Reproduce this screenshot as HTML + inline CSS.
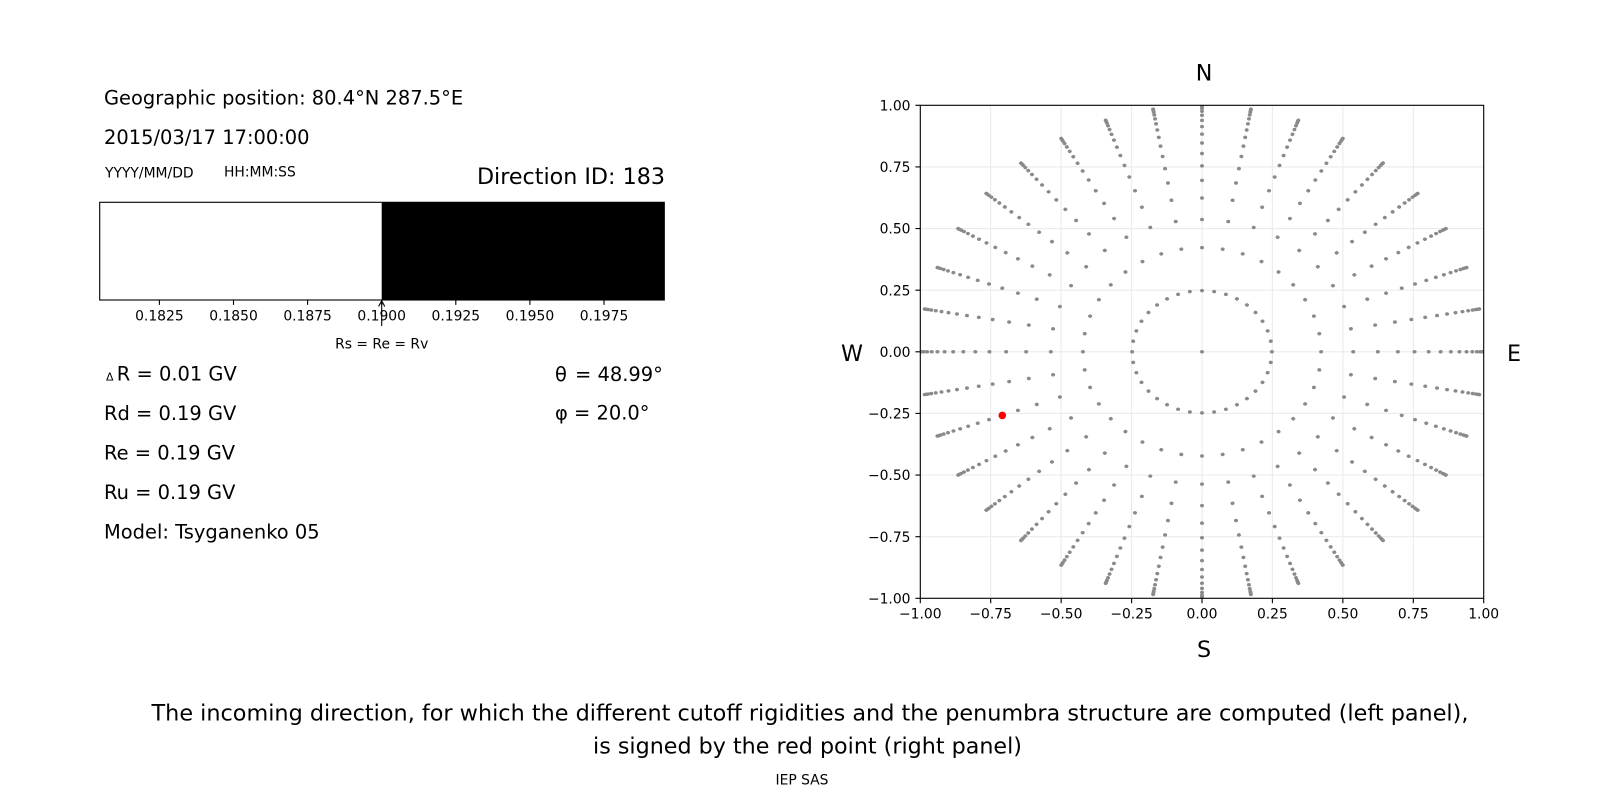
<!DOCTYPE html>
<html>
<head>
<meta charset="utf-8">
<style>
  html, body { margin: 0; padding: 0; background: #ffffff; }
  svg { display: block; }
  text { font-family: "DejaVu Sans", "Liberation Sans", sans-serif; fill: #000; }
</style>
</head>
<body>
<svg width="1600" height="800" viewBox="0 0 1600 800" xmlns="http://www.w3.org/2000/svg">
  <rect x="0" y="0" width="1600" height="800" fill="#ffffff"/>

  <!-- ===== LEFT PANEL ===== -->
  <text x="104" y="104.3" font-size="19.44">Geographic position: 80.4°N 287.5°E</text>
  <text x="104" y="144" font-size="19.44">2015/03/17 17:00:00</text>
  <text x="105" y="177.3" font-size="13.89">YYYY/MM/DD</text>
  <text x="224" y="176.6" font-size="13.89">HH:MM:SS</text>
  <text x="665" y="184" font-size="22.22" text-anchor="end">Direction ID: 183</text>

  <!-- bar -->
  <rect x="99.7" y="202.3" width="282" height="97.7" fill="#ffffff"/>
  <rect x="381.7" y="202.3" width="282.6" height="97.7" fill="#000000"/>
  <rect x="99.7" y="202.3" width="564.6" height="97.7" fill="none" stroke="#000" stroke-width="1.11"/>
  <g stroke="#000" stroke-width="1.11">
    <line x1="159.4" y1="300" x2="159.4" y2="304.9"/>
    <line x1="233.5" y1="300" x2="233.5" y2="304.9"/>
    <line x1="307.6" y1="300" x2="307.6" y2="304.9"/>
    <line x1="381.7" y1="300" x2="381.7" y2="304.9"/>
    <line x1="455.8" y1="300" x2="455.8" y2="304.9"/>
    <line x1="529.9" y1="300" x2="529.9" y2="304.9"/>
    <line x1="604.0" y1="300" x2="604.0" y2="304.9"/>
  </g>
  <g font-size="13.89" text-anchor="middle">
    <text x="159.4" y="320.7">0.1825</text>
    <text x="233.5" y="320.7">0.1850</text>
    <text x="307.6" y="320.7">0.1875</text>
    <text x="381.7" y="320.7">0.1900</text>
    <text x="455.8" y="320.7">0.1925</text>
    <text x="529.9" y="320.7">0.1950</text>
    <text x="604.0" y="320.7">0.1975</text>
  </g>
  <!-- arrow -->
  <g stroke="#000" stroke-width="1.1" fill="none">
    <line x1="381.7" y1="326" x2="381.7" y2="300.8"/>
    <polyline points="378.6,306.5 381.7,300.8 384.8,306.5"/>
  </g>
  <text x="381.7" y="348.3" font-size="13.89" text-anchor="middle">Rs = Re = Rv</text>

  <!-- values -->
  <text x="106" y="380.7" font-size="11">Δ</text>
  <text x="116.8" y="380.7" font-size="19.44">R = 0.01 GV</text>
  <text x="104" y="420.2" font-size="19.44">Rd = 0.19 GV</text>
  <text x="104" y="459.7" font-size="19.44">Re = 0.19 GV</text>
  <text x="104" y="499.2" font-size="19.44">Ru = 0.19 GV</text>
  <text x="104" y="538.7" font-size="19.44">Model: Tsyganenko 05</text>

  <text x="555" y="381" font-size="19.44" font-family="DejaVu Serif, serif">θ</text>
  <text x="575" y="381" font-size="19.44">= 48.99°</text>
  <text x="555" y="419.5" font-size="19.44" font-family="DejaVu Serif, serif">φ</text>
  <text x="574" y="419.5" font-size="19.44">= 20.0°</text>

  <!-- ===== RIGHT PANEL ===== -->
  <defs>
    <clipPath id="axclip">
      <rect x="920.3" y="105.3" width="563.4" height="493"/>
    </clipPath>
    <g id="sp">
      <circle cx="69.87" cy="0" r="2"/>
      <circle cx="119.09" cy="0" r="2"/>
      <circle cx="151.20" cy="0" r="2"/>
      <circle cx="175.84" cy="0" r="2"/>
      <circle cx="195.86" cy="0" r="2"/>
      <circle cx="212.55" cy="0" r="2"/>
      <circle cx="226.67" cy="0" r="2"/>
      <circle cx="238.66" cy="0" r="2"/>
      <circle cx="248.83" cy="0" r="2"/>
      <circle cx="257.41" cy="0" r="2"/>
      <circle cx="264.53" cy="0" r="2"/>
      <circle cx="270.33" cy="0" r="2"/>
      <circle cx="274.88" cy="0" r="2"/>
      <circle cx="278.24" cy="0" r="2"/>
      <circle cx="280.46" cy="0" r="2"/>
      <circle cx="281.56" cy="0" r="2"/>
    </g>
  </defs>

  <!-- grid -->
  <g stroke="#ebebeb" stroke-width="1.1">
    <line x1="990.7" y1="105.3" x2="990.7" y2="598.3"/>
    <line x1="1061.15" y1="105.3" x2="1061.15" y2="598.3"/>
    <line x1="1131.6" y1="105.3" x2="1131.6" y2="598.3"/>
    <line x1="1202" y1="105.3" x2="1202" y2="598.3"/>
    <line x1="1272.4" y1="105.3" x2="1272.4" y2="598.3"/>
    <line x1="1342.85" y1="105.3" x2="1342.85" y2="598.3"/>
    <line x1="1413.3" y1="105.3" x2="1413.3" y2="598.3"/>
    <line x1="920.3" y1="166.9" x2="1483.7" y2="166.9"/>
    <line x1="920.3" y1="228.55" x2="1483.7" y2="228.55"/>
    <line x1="920.3" y1="290.2" x2="1483.7" y2="290.2"/>
    <line x1="920.3" y1="351.8" x2="1483.7" y2="351.8"/>
    <line x1="920.3" y1="413.4" x2="1483.7" y2="413.4"/>
    <line x1="920.3" y1="475.05" x2="1483.7" y2="475.05"/>
    <line x1="920.3" y1="536.7" x2="1483.7" y2="536.7"/>
  </g>

  <!-- scatter points -->
  <g clip-path="url(#axclip)">
    <g transform="translate(1202,351.8) scale(1,0.875)" fill="#8a8a8a">
      <circle cx="0" cy="0" r="2"/>
      <use href="#sp"/>
      <use href="#sp" transform="rotate(10)"/>
      <use href="#sp" transform="rotate(20)"/>
      <use href="#sp" transform="rotate(30)"/>
      <use href="#sp" transform="rotate(40)"/>
      <use href="#sp" transform="rotate(50)"/>
      <use href="#sp" transform="rotate(60)"/>
      <use href="#sp" transform="rotate(70)"/>
      <use href="#sp" transform="rotate(80)"/>
      <use href="#sp" transform="rotate(90)"/>
      <use href="#sp" transform="rotate(100)"/>
      <use href="#sp" transform="rotate(110)"/>
      <use href="#sp" transform="rotate(120)"/>
      <use href="#sp" transform="rotate(130)"/>
      <use href="#sp" transform="rotate(140)"/>
      <use href="#sp" transform="rotate(150)"/>
      <use href="#sp" transform="rotate(160)"/>
      <use href="#sp" transform="rotate(170)"/>
      <use href="#sp" transform="rotate(180)"/>
      <use href="#sp" transform="rotate(190)"/>
      <use href="#sp" transform="rotate(200)"/>
      <use href="#sp" transform="rotate(210)"/>
      <use href="#sp" transform="rotate(220)"/>
      <use href="#sp" transform="rotate(230)"/>
      <use href="#sp" transform="rotate(240)"/>
      <use href="#sp" transform="rotate(250)"/>
      <use href="#sp" transform="rotate(260)"/>
      <use href="#sp" transform="rotate(270)"/>
      <use href="#sp" transform="rotate(280)"/>
      <use href="#sp" transform="rotate(290)"/>
      <use href="#sp" transform="rotate(300)"/>
      <use href="#sp" transform="rotate(310)"/>
      <use href="#sp" transform="rotate(320)"/>
      <use href="#sp" transform="rotate(330)"/>
      <use href="#sp" transform="rotate(340)"/>
      <use href="#sp" transform="rotate(350)"/>
    </g>
    <circle cx="1002.3" cy="415.4" r="3.8" fill="#ff0000"/>
  </g>

  <!-- spines -->
  <rect x="920.3" y="105.3" width="563.4" height="493" fill="none" stroke="#000" stroke-width="1.11"/>

  <!-- ticks -->
  <g stroke="#000" stroke-width="1.11">
    <line x1="920.3" y1="598.3" x2="920.3" y2="603.2"/>
    <line x1="990.7" y1="598.3" x2="990.7" y2="603.2"/>
    <line x1="1061.15" y1="598.3" x2="1061.15" y2="603.2"/>
    <line x1="1131.6" y1="598.3" x2="1131.6" y2="603.2"/>
    <line x1="1202" y1="598.3" x2="1202" y2="603.2"/>
    <line x1="1272.4" y1="598.3" x2="1272.4" y2="603.2"/>
    <line x1="1342.85" y1="598.3" x2="1342.85" y2="603.2"/>
    <line x1="1413.3" y1="598.3" x2="1413.3" y2="603.2"/>
    <line x1="1483.7" y1="598.3" x2="1483.7" y2="603.2"/>
    <line x1="915.4" y1="105.3" x2="920.3" y2="105.3"/>
    <line x1="915.4" y1="166.9" x2="920.3" y2="166.9"/>
    <line x1="915.4" y1="228.55" x2="920.3" y2="228.55"/>
    <line x1="915.4" y1="290.2" x2="920.3" y2="290.2"/>
    <line x1="915.4" y1="351.8" x2="920.3" y2="351.8"/>
    <line x1="915.4" y1="413.4" x2="920.3" y2="413.4"/>
    <line x1="915.4" y1="475.05" x2="920.3" y2="475.05"/>
    <line x1="915.4" y1="536.7" x2="920.3" y2="536.7"/>
    <line x1="915.4" y1="598.3" x2="920.3" y2="598.3"/>
  </g>
  <g font-size="13.89" text-anchor="middle">
    <text x="920.3" y="618.3">−1.00</text>
    <text x="990.7" y="618.3">−0.75</text>
    <text x="1061.15" y="618.3">−0.50</text>
    <text x="1131.6" y="618.3">−0.25</text>
    <text x="1202" y="618.3">0.00</text>
    <text x="1272.4" y="618.3">0.25</text>
    <text x="1342.85" y="618.3">0.50</text>
    <text x="1413.3" y="618.3">0.75</text>
    <text x="1483.7" y="618.3">1.00</text>
  </g>
  <g font-size="13.89" text-anchor="end">
    <text x="910.5" y="110.4">1.00</text>
    <text x="910.5" y="172.0">0.75</text>
    <text x="910.5" y="233.6">0.50</text>
    <text x="910.5" y="295.3">0.25</text>
    <text x="910.5" y="356.9">0.00</text>
    <text x="910.5" y="418.5">−0.25</text>
    <text x="910.5" y="480.1">−0.50</text>
    <text x="910.5" y="541.8">−0.75</text>
    <text x="910.5" y="603.4">−1.00</text>
  </g>

  <!-- compass labels -->
  <g font-size="22.22" text-anchor="middle">
    <text x="1204" y="80.5">N</text>
    <text x="1204" y="657">S</text>
    <text x="852" y="361">W</text>
    <text x="1514" y="361">E</text>
  </g>

  <!-- caption -->
  <text x="810" y="720.7" font-size="22.33" text-anchor="middle">The incoming direction, for which the different cutoff rigidities and the penumbra structure are computed (left panel),</text>
  <text x="807.5" y="753.4" font-size="22.22" text-anchor="middle">is signed by the red point (right panel)</text>
  <text x="802" y="784.5" font-size="13.89" text-anchor="middle">IEP SAS</text>
</svg>
</body>
</html>
